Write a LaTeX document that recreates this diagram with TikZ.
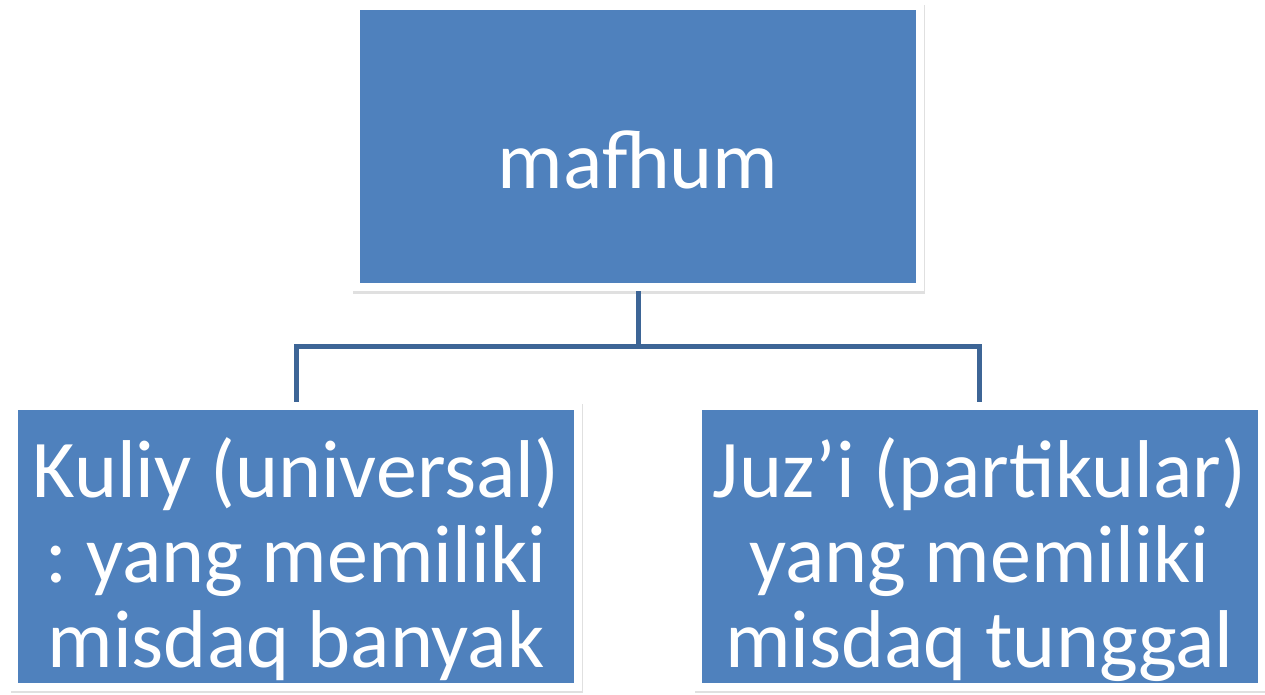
\documentclass[tikz,border=0pt]{standalone}
\usepackage{fontspec}
\setmainfont{Carlito}
\usetikzlibrary{positioning, shadows}
\definecolor{kotak}{HTML}{4F81BD}
\definecolor{garis}{HTML}{3D6596}

\begin{document}
\begin{tikzpicture}[x=1pt, y=-1pt,
            kotakbiru/.style={rectangle, draw=white, line width=8pt, fill=kotak, inner sep=0pt,
                minimum width=564pt, minimum height=281pt,
                drop shadow={opacity=0.12, shadow xshift=1pt, shadow yshift=-2.5pt, draw=black, line width=8pt}},
            teks/.style={text=white, align=center, inner sep=0pt, font=\fontsize{82}{85}\selectfont\frenchspacing},
            hubung/.style={draw=garis, line width=5pt}]
        \useasboundingbox (0,0) rectangle (1265,694);
        \node[kotakbiru] (mafhum) at (638,146.5) {};
        \node[kotakbiru] (kuliy) at (296,546) {};
        \node[kotakbiru] (juzi) at (979.5,546) {};
        % garis penghubung
        \coordinate (cabang) at (638,346);
        \draw[hubung] (mafhum.south) -- (cabang);
        \draw[hubung] (cabang) -| (kuliy.north);
        \draw[hubung] (cabang) -| (juzi.north);
        % teks
        \node[teks, anchor=base] (mafhumteks) at (638,188) {mafhum};
        \begin{scope}
            \clip ([shift={(8,-8)}]kuliy.south west) rectangle ([shift={(-8,8)}]kuliy.north east);
            \node[teks, anchor=base] (kuliyteks) at (296,667) {Kuliy (universal)\\: yang memiliki\\misdaq banyak};
        \end{scope}
        \begin{scope}
            \clip ([shift={(8,-8)}]juzi.south west) rectangle ([shift={(-8,8)}]juzi.north east);
            \node[teks, anchor=base] (juziteks) at (979.5,667) {Juz’i (partikular)\\yang memiliki\\misdaq tunggal};
        \end{scope}
\end{tikzpicture}
\end{document}
